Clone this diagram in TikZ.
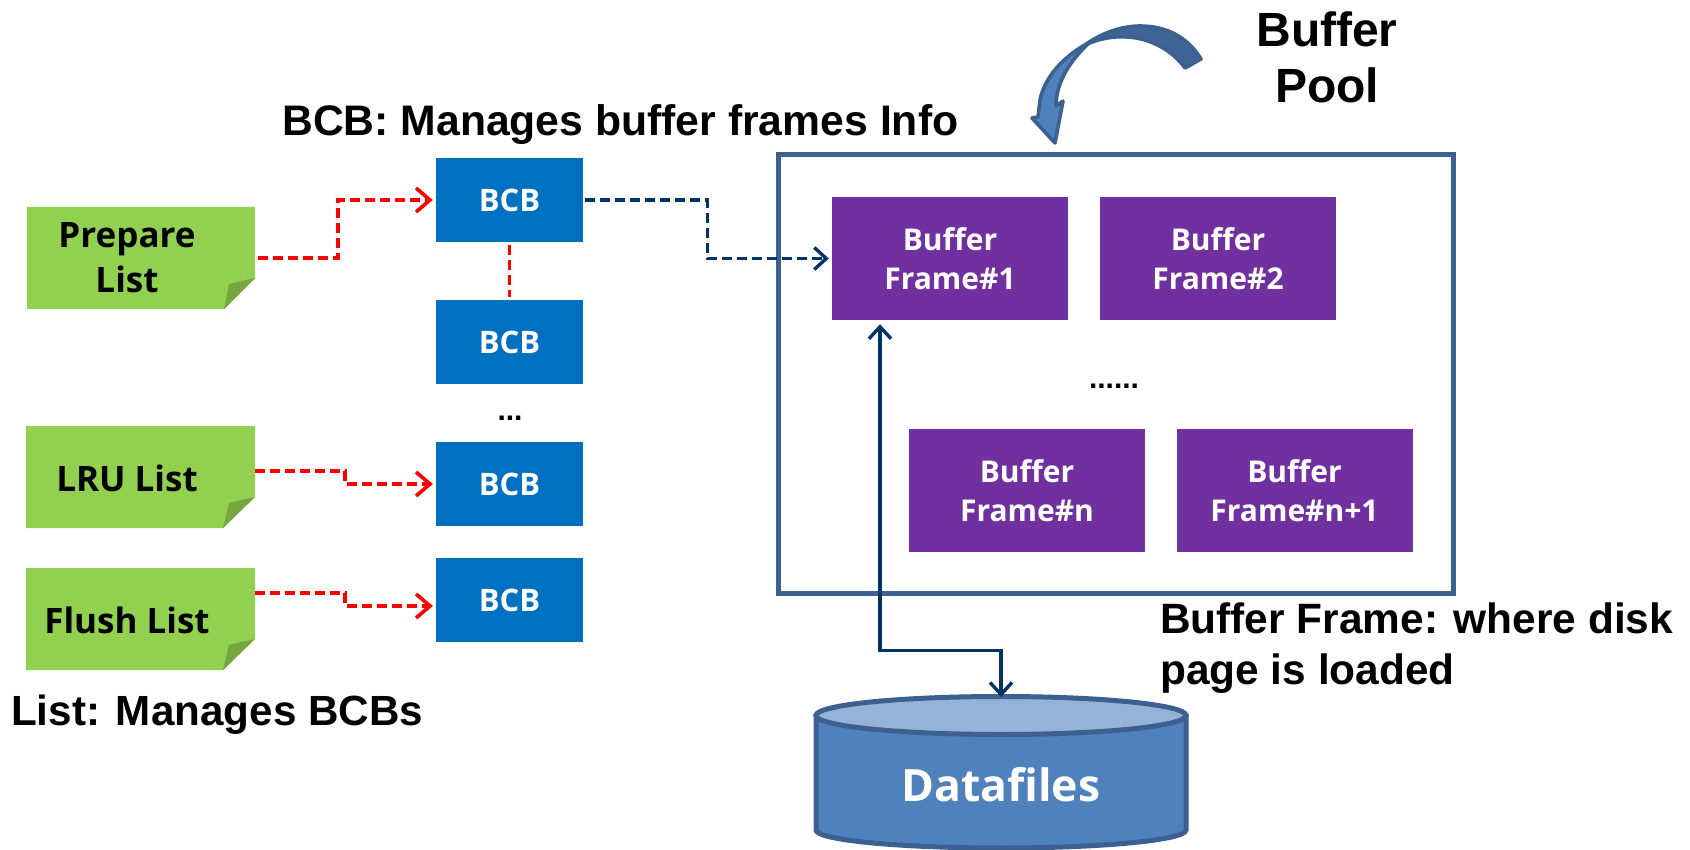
\documentclass[tikz,border=0pt]{standalone}
\usepackage{fontspec}
\setmainfont{Liberation Sans}
\newfontfamily\kfont{Open Sans}
\usetikzlibrary{arrows.meta,calc}
\definecolor{notegreen}{HTML}{92D050}
\definecolor{notefold}{HTML}{75A640}
\definecolor{bcbblue}{HTML}{0070C0}
\definecolor{framepurple}{HTML}{7030A0}
\definecolor{poolline}{HTML}{3C6090}
\definecolor{cylbody}{HTML}{4F81BD}
\definecolor{cyltop}{HTML}{95B3D7}
\definecolor{navyline}{HTML}{003366}
\tikzset{
  bcbbox/.style={rectangle,fill=bcbblue,draw=none,minimum width=147pt,minimum height=84pt,inner sep=0pt,text=white,font=\kfont\fontsize{31}{34}\selectfont\bfseries},
  framebox/.style={rectangle,fill=framepurple,draw=none,minimum width=236pt,minimum height=123pt,inner sep=0pt,text=white,align=center,font=\kfont\fontsize{30}{39}\selectfont\bfseries},
  notetext/.style={align=center,inner sep=0pt,font=\kfont\fontsize{35}{45}\selectfont\bfseries},
  heading/.style={inner sep=0pt,font=\fontsize{42.7}{50}\selectfont\bfseries},
  notepatch/.style={fill=notegreen,draw=none},
  foldpatch/.style={fill=notefold,draw=none},
  anchorbox/.style={rectangle,draw=none,fill=none,inner sep=0pt},
  redlink/.style={draw=red,line width=3.6pt,dash pattern=on 10pt off 5pt},
  redarrow/.style={redlink,-{Straight Barb[length=14pt,width=24pt,line width=3.6pt]},shorten >=3pt},
  navyarrow/.style={draw=navyline,line width=3.4pt,-{Straight Barb[length=12pt,width=22pt,line width=3.4pt]}},
  navybi/.style={draw=navyline,line width=3.4pt,{Straight Barb[length=12pt,width=22pt,line width=3.4pt]}-{Straight Barb[length=12pt,width=22pt,line width=3.4pt]}},
}
\begin{document}
\begin{tikzpicture}[x=1pt,y=-1pt]
\useasboundingbox (0,0) rectangle (1690,850);
% buffer pool
\node[anchorbox,draw=poolline,line width=5pt,minimum width=675pt,minimum height=438pt] (pool) at (1116,374) {};
% notes
\fill[notepatch] (27,207) -- (255,207) -- (255,278) -- (224,309) -- (27,309) -- cycle;
\fill[foldpatch] (255,278) -- (229,284) -- (224,309) -- cycle;
\node[anchorbox,minimum width=228pt,minimum height=102pt] (prep) at (141,258) {};
\node[notetext] (preptext) at (127,258) {Prepare\\List};
\fill[notepatch] (26,426) -- (255,426) -- (255,497) -- (223,528) -- (26,528) -- cycle;
\fill[foldpatch] (255,497) -- (229,503) -- (223,528) -- cycle;
\node[anchorbox,minimum width=229pt,minimum height=102pt] (lru) at (140.5,477) {};
\node[notetext] (lrutext) at (127,478) {LRU List};
\fill[notepatch] (26,568) -- (255,568) -- (255,639) -- (223,670) -- (26,670) -- cycle;
\fill[foldpatch] (255,639) -- (229,645) -- (223,670) -- cycle;
\node[anchorbox,minimum width=229pt,minimum height=102pt] (flush) at (140.5,619) {};
\node[notetext] (flushtext) at (127,620) {Flush List};
% BCBs
\node[bcbbox] (b1) at (509.5,200) {BCB};
\node[bcbbox] (b2) at (509.5,342) {BCB};
\node[bcbbox] (b3) at (509.5,484) {BCB};
\node[bcbbox] (b4) at (509.5,600) {BCB};
\node[inner sep=0pt,font=\fontsize{30}{30}\selectfont\bfseries] (bdots) at (510,418) {...};
% frames
\node[framebox] (f1) at (950,258.5) {Buffer\\Frame\#1};
\node[framebox] (f2) at (1218,258.5) {Buffer\\Frame\#2};
\node[framebox] (fn) at (1027,490.5) {Buffer\\Frame\#n};
\node[framebox] (fn1) at (1294.5,490.5) {Buffer\\Frame\#n+1};
\node[inner sep=0pt,font=\fontsize{30}{30}\selectfont\bfseries] (fdots) at (1114,386) {......};
% cylinder
\path[fill=cylbody,draw=poolline,line width=5pt] (816,716) -- (816,830) arc[start angle=180,end angle=360,x radius=185,y radius=-18] -- (1186,716) -- cycle;
\draw[fill=cyltop,draw=poolline,line width=5pt] (1001,715.5) ellipse[x radius=185,y radius=19];
\node[anchorbox,minimum width=370pt,minimum height=152pt] (data) at (1001,773) {};
\node[inner sep=0pt,text=white,font=\kfont\fontsize{44.5}{50}\selectfont\bfseries] (datatext) at (1001,785) {Datafiles};
\coordinate (datatop) at (1001,697);
% connectors
\draw[redarrow] ([xshift=3pt]prep.east) -- ++(80,0) |- (b1.west);
\draw[redlink] ([yshift=-3pt]b1.south) -- ([yshift=3pt]b2.north);
\draw[redarrow] ([yshift=6pt]lru.east) -- ++(90,0) |- (b3.west);
\draw[redarrow] ([yshift=26pt]flush.east) -- ++(90,0) |- ([yshift=-6pt]b4.west);
\draw[navyarrow,dash pattern=on 10pt off 5pt,shorten >=3pt] ([xshift=2pt]b1.east) -- ++(122,0) |- (f1.west);
\draw[navybi,shorten <=4pt] ([xshift=-70pt]f1.south) -- ++(0,330) -| (datatop);
% curved arrow
\draw[fill=cylbody,draw=poolline,line width=3.6pt,line join=round] (1090,42) .. controls (1060,58) and (1044,80) .. (1040,100) -- (1038,117) -- (1032,118) -- (1055,143) -- (1063,101) -- (1056,106) .. controls (1056,88) and (1064,66) .. (1090,42) -- cycle;
\draw[fill=poolline!92!cylbody,draw=poolline,line width=3.6pt,line join=round] (1201,59) .. controls (1187,36) and (1165,26) .. (1140,26) .. controls (1120,26) and (1100,34) .. (1085,45) .. controls (1100,38) and (1115,36) .. (1127,37) .. controls (1150,38) and (1172,50) .. (1185,68) -- cycle;
% texts
\node[heading,align=center,font=\fontsize{48}{56.5}\selectfont\bfseries] (pooltext) at (1327,57.5) {Buffer\\Pool};
\node[heading,anchor=west] (bcbtext) at (282,125) {BCB: Manages buffer frames Info};
\node[heading,anchor=west,font=\fontsize{42.2}{50}\selectfont\bfseries] (listtext) at (11,715) {List: Manages BCBs};
\node[heading,anchor=north west,align=left,font=\fontsize{42.4}{51}\selectfont\bfseries] (frametext) at (1160,603) {Buffer Frame: where disk\\page is loaded};
\end{tikzpicture}
\end{document}
